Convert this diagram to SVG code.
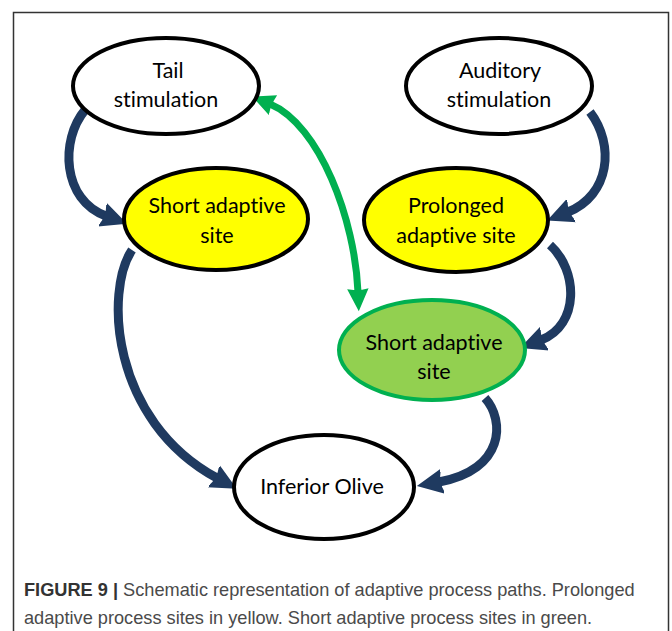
<svg xmlns="http://www.w3.org/2000/svg" width="672" height="631" viewBox="0 0 672 631">
<style>
.lbl{font-family:Lato,"Noto Sans",sans-serif;font-size:21.5px;fill:#000;text-anchor:middle;font-variant-ligatures:none}
.wn{fill:#fff;stroke:#000;stroke-width:4}
.yn{fill:#ffff00;stroke:#000;stroke-width:4}
.gn{fill:#92d050;stroke:#00b050;stroke-width:4}
.nv{fill:none;stroke:#1f3a60;stroke-width:9}
.gr{fill:none;stroke:#00b050;stroke-width:7}
.cap{font-family:"Liberation Sans",Arial,sans-serif;font-size:18.2px;fill:#4a4a4a}
</style>
<defs>
<marker id="ah" markerUnits="userSpaceOnUse" markerWidth="30" markerHeight="30" viewBox="-2 -14 26 28" refX="0" refY="0" orient="auto">
<path d="M-2,-5 L-4,-12 L21,0 L-4,12 L-2,5 Z" fill="#1f3a60"/>
</marker>
<marker id="gh" markerUnits="userSpaceOnUse" markerWidth="30" markerHeight="30" viewBox="-2 -14 26 28" refX="0" refY="0" orient="auto-start-reverse">
<path d="M-2,-4 L-3,-10 L18,0 L-3,10 L-2,4 Z" fill="#00b050"/>
</marker>
</defs>
<rect x="13.5" y="12.5" width="655" height="640" fill="#fff" stroke="#333" stroke-width="1.5"/>
<g id="connectors">
<path class="nv" d="M85,110 C60,140 62,200 106,216" marker-end="url(#ah)"/>
<path class="nv" d="M590,112 C615,145 610,195 568,212" marker-end="url(#ah)"/>
<path class="nv" d="M132,250 C105,290 110,420 217,478" marker-end="url(#ah)"/>
<path class="nv" d="M550,245 C578,270 580,325 541,340" marker-end="url(#ah)"/>
<path class="nv" d="M485,398 C505,420 505,470 439,482" marker-end="url(#ah)"/>
<path class="gr" d="M270,104 C320,125 355,220 358,292" marker-start="url(#gh)" marker-end="url(#gh)"/>
</g>
<g id="tail">
<ellipse class="wn" cx="166" cy="86" rx="93" ry="48"/>
<text class="lbl" x="168" y="78">Tail</text>
<text class="lbl" x="166" y="107">stimulation</text>
</g>
<g id="auditory">
<ellipse class="wn" cx="499" cy="86" rx="93" ry="48"/>
<text class="lbl" x="500" y="78">Auditory</text>
<text class="lbl" x="499" y="107">stimulation</text>
</g>
<g id="short1">
<ellipse class="yn" cx="216" cy="219" rx="92" ry="51"/>
<text class="lbl" x="217" y="213">Short adaptive</text>
<text class="lbl" x="217" y="243">site</text>
</g>
<g id="prolonged">
<ellipse class="yn" cx="456" cy="220" rx="92" ry="52"/>
<text class="lbl" x="456" y="213">Prolonged</text>
<text class="lbl" x="456" y="243">adaptive site</text>
</g>
<g id="short2">
<ellipse class="gn" cx="432" cy="350" rx="93" ry="50"/>
<text class="lbl" x="434" y="350">Short adaptive</text>
<text class="lbl" x="434" y="379">site</text>
</g>
<g id="olive">
<ellipse class="wn" cx="324" cy="487" rx="90" ry="52"/>
<text class="lbl" x="322" y="494">Inferior Olive</text>
</g>
<text class="cap" x="24" y="596"><tspan font-weight="bold" fill="#333">FIGURE 9 |</tspan> Schematic representation of adaptive process paths. Prolonged</text>
<text class="cap" x="24" y="624">adaptive process sites in yellow. Short adaptive process sites in green.</text>
</svg>
